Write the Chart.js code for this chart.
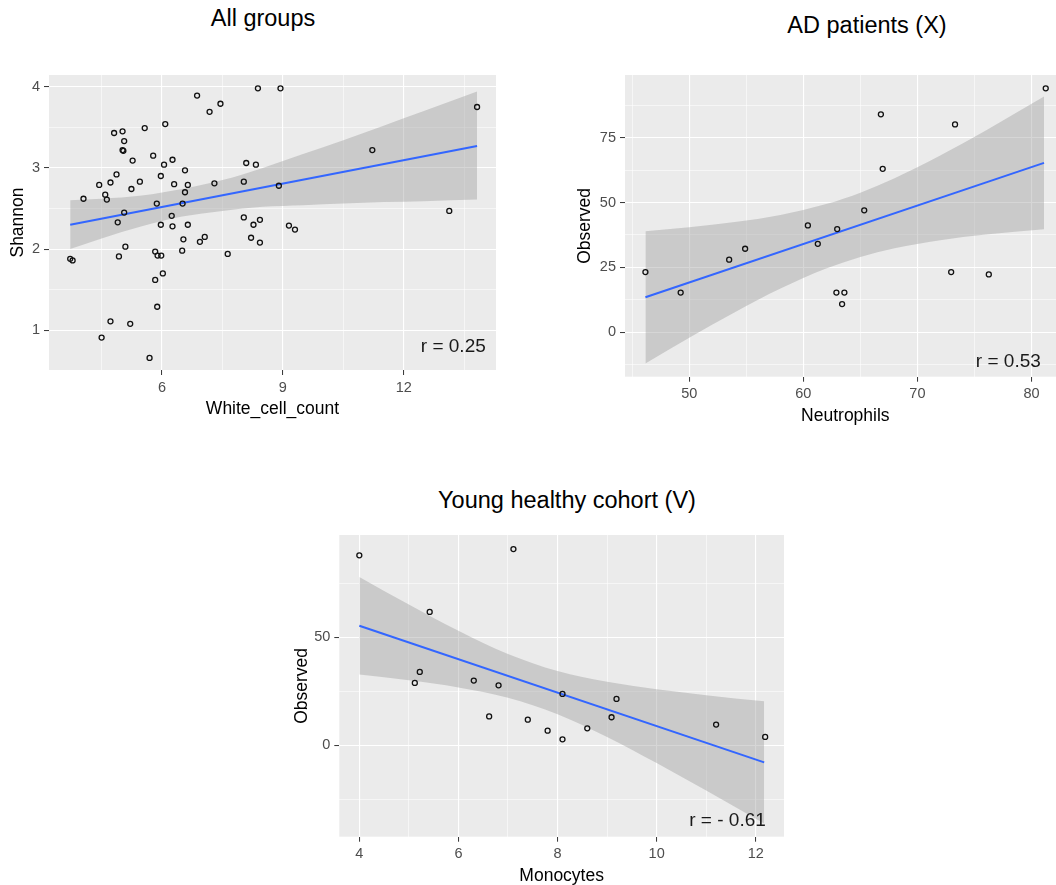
<!DOCTYPE html>
<html lang="en">
<head>
  <meta charset="UTF-8" />
  <title>Correlations</title>
  <script src="https://cdn.jsdelivr.net/npm/chart.js"></script>
  <style>
    html, body {
      margin: 0;
      padding: 0;
      background: #fff;
      overflow: hidden;
      width: 1056px;
      height: 885px;
    }
    body { position: relative; }
    canvas { position: absolute; }
    .plot-title {
      position: absolute;
      width: 400px;
      text-align: center;
      font-family: "Liberation Sans", Arial, sans-serif;
      font-size: 23.5px;
      line-height: 1;
      color: #000;
      white-space: nowrap;
    }
  </style>
</head>
<body>
  <div class="plot-title" style="left:63px; top:7px;">All groups</div>
  <div class="plot-title" style="left:667px; top:14px;">AD patients (X)</div>
  <div class="plot-title" style="left:367px; top:489px;">Young healthy cohort (V)</div>

  <canvas id="allChart" width="510" height="370" style="left:0px; top:60px;"></canvas>
  <canvas id="adChart" width="511" height="377" style="left:560px; top:60px;"></canvas>
  <canvas id="yhChart" width="520" height="377" style="left:277px; top:520px;"></canvas>

  <script>
    // --- All groups: White_cell_count vs Shannon
    const allWcc = [3.72, 3.78, 4.05, 4.44, 4.50, 4.59, 4.63, 4.72, 4.72, 4.81, 4.87, 4.90, 4.93, 5.02, 5.06, 5.02, 5.04, 5.06,
      5.09, 5.21, 5.24, 5.27, 5.45, 5.57, 5.69, 5.78, 5.83, 5.83, 5.87, 5.88, 5.89, 5.97, 5.97, 5.98, 6.02, 6.05, 6.08,
      6.24, 6.26, 6.26, 6.30, 6.51, 6.53, 6.50, 6.57, 6.57, 6.64, 6.64, 6.87, 6.94, 7.06, 7.18, 7.30, 7.45, 7.63, 8.03,
      8.03, 8.09, 8.21, 8.27, 8.33, 8.38, 8.43, 8.43, 8.90, 8.94, 9.15, 9.30, 11.22, 13.13, 13.82];
    const allShannon = [1.88, 1.86, 2.62, 2.79, 0.91, 2.67, 2.61, 2.82, 1.11, 3.43, 2.92, 2.33, 1.91, 3.45, 3.33, 3.22, 3.21, 2.45,
      2.03, 1.08, 2.74, 3.09, 2.83, 3.49, 0.66, 3.15, 1.97, 1.62, 2.56, 1.29, 1.92, 2.90, 2.30, 1.92, 1.70, 3.04, 3.54,
      2.41, 3.10, 2.28, 2.80, 2.56, 2.12, 1.98, 2.97, 2.70, 2.79, 2.30, 3.89, 2.09, 2.15, 3.69, 2.81, 3.79, 1.94, 2.83,
      2.39, 3.06, 2.14, 2.30, 3.04, 3.98, 2.36, 2.08, 2.78, 3.98, 2.29, 2.24, 3.22, 2.47, 3.75];
    const allFitX = [3.72, 13.82];
    const allFitY = [2.30, 3.27];
    const allBandX = [3.72, 4.5, 5.5, 6.5, 7.5, 8.5, 9.5, 10.5, 11.5, 12.5, 13.82];
    const allBandUpper = [2.60, 2.62, 2.66, 2.74, 2.85, 3.00, 3.17, 3.34, 3.52, 3.70, 3.94];
    const allBandLower = [2.00, 2.13, 2.28, 2.40, 2.47, 2.52, 2.54, 2.56, 2.58, 2.59, 2.61];
    const allXMajor = [6, 9, 12], allXMinor = [4.5, 7.5, 10.5, 13.5];
    const allYMajor = [1, 2, 3, 4], allYMinor = [1.5, 2.5, 3.5];

    // --- AD patients (X): Neutrophils vs Observed
    const adNeutrophils = [46.16, 49.25, 53.5, 54.9, 60.4, 61.27, 62.97, 62.9, 63.6, 63.4, 65.34, 66.8, 66.96, 72.96, 73.3, 76.26, 81.25];
    const adObserved = [23.2, 15.3, 28.0, 32.2, 41.2, 34.1, 39.8, 15.3, 15.3, 10.9, 47.0, 84.0, 63.0, 23.2, 80.1, 22.3, 94.0];
    const adFitX = [46.16, 81.1];
    const adFitY = [13.5, 65.3];
    const adBandX = [46.16, 50, 54, 58, 62, 65, 68, 72, 76, 81.1];
    const adBandUpper = [38.97, 40.48, 42.47, 45.24, 49.40, 53.81, 59.36, 68.11, 77.78, 90.84];
    const adBandLower = [-11.97, -2.10, 7.77, 16.86, 24.56, 29.05, 32.40, 35.51, 37.68, 39.76];
    const adXMajor = [50, 60, 70, 80], adXMinor = [45, 55, 65, 75];
    const adYMajor = [0, 25, 50, 75], adYMinor = [-12.5, 12.5, 37.5, 62.5, 87.5];

    // --- Young healthy cohort (V): Monocytes vs Observed
    const yhMonocytes = [4.0, 7.11, 5.42, 5.12, 5.22, 6.31, 6.81, 6.62, 7.40, 7.80, 8.10, 8.10, 8.60, 9.09, 9.19, 11.2, 12.19];
    const yhObserved = [88.0, 90.9, 61.8, 28.9, 34.0, 30.0, 27.8, 13.4, 11.9, 6.8, 23.8, 2.8, 7.9, 13.0, 21.5, 9.6, 3.9];
    const yhFitX = [4.0, 12.17];
    const yhFitY = [55.4, -7.9];
    const yhBandX = [4.0, 5, 6, 7, 8, 9, 10, 11, 12.17];
    const yhBandUpper = [78.00, 65.21, 53.04, 42.29, 34.38, 29.40, 26.00, 23.25, 20.40];
    const yhBandLower = [32.80, 30.09, 26.78, 22.03, 14.44, 3.92, -8.16, -20.91, -36.20];
    const yhXMajor = [4, 6, 8, 10, 12], yhXMinor = [5, 7, 9, 11];
    const yhYMajor = [0, 50], yhYMinor = [-25, 25, 75];

    const FONT = '"Liberation Sans", Arial, sans-serif';
    const zip = (xs, ys) => xs.map((x, i) => ({ x, y: ys[i] }));

    // fondo gris del panel (theme_gray)
    const panelBg = {
      id: 'panelBg',
      beforeDraw(chart) {
        const { ctx, chartArea: a } = chart;
        ctx.save();
        ctx.fillStyle = '#EBEBEB';
        ctx.fillRect(a.left, a.top, a.right - a.left, a.bottom - a.top);
        ctx.restore();
      }
    };

    // texto "r = ..." en coordenadas de datos
    const corrLabel = {
      id: 'corrLabel',
      afterDatasetsDraw(chart, args, opts) {
        const { ctx, scales } = chart;
        ctx.save();
        ctx.font = '19px ' + FONT;
        ctx.fillStyle = '#1a1a1a';
        ctx.textAlign = 'center';
        ctx.textBaseline = 'alphabetic';
        ctx.fillText(opts.text, scales.x.getPixelForValue(opts.x), scales.y.getPixelForValue(opts.y));
        ctx.restore();
      }
    };

    function axis(major, minor, min, max, size, title, titlePad, isX) {
      const isMajor = v => major.includes(v);
      return {
        type: 'linear',
        position: isX ? 'bottom' : 'left',
        min, max,
        afterBuildTicks: s => {
          s.ticks = [...major, ...minor].sort((a, b) => a - b).map(v => ({ value: v }));
        },
        afterFit: s => {
          if (isX) s.height = size; else s.width = size;
        },
        border: { display: false },
        grid: {
          color: '#FFFFFF',
          lineWidth: c => (c.tick && isMajor(c.tick.value)) ? 1.1 : 0.55,
          tickColor: c => (c.tick && isMajor(c.tick.value)) ? '#333333' : 'rgba(0,0,0,0)',
          tickWidth: 1,
          tickLength: 5,
          drawTicks: true
        },
        ticks: {
          autoSkip: false,
          maxRotation: 0,
          padding: 4,
          color: '#4D4D4D',
          font: { family: FONT, size: 14.5 },
          callback: v => isMajor(v) ? String(v) : ''
        },
        title: {
          display: true,
          text: title,
          color: '#000',
          font: { family: FONT, size: 17.5 },
          padding: isX ? { top: 0, bottom: titlePad } : { top: titlePad, bottom: 0 }
        }
      };
    }

    function makeChart(id, p) {
      return new Chart(document.getElementById(id), {
        type: 'scatter',
        data: {
          datasets: [
            {
              data: zip(p.xs, p.ys),
              pointRadius: 2.5,
              pointBorderWidth: 1.3,
              pointBorderColor: '#111',
              pointBackgroundColor: 'rgba(0,0,0,0)',
              showLine: false
            },
            {
              data: zip(p.fitX, p.fitY),
              showLine: true,
              borderColor: '#3366FF',
              borderWidth: 2,
              pointRadius: 0,
              fill: false
            },
            {
              data: zip(p.bandX, p.bandUp),
              showLine: true,
              cubicInterpolationMode: 'monotone',
              borderWidth: 0,
              borderColor: 'rgba(0,0,0,0)',
              pointRadius: 0,
              backgroundColor: 'rgba(153,153,153,0.4)',
              fill: '+1'
            },
            {
              data: zip(p.bandX, p.bandLo),
              showLine: true,
              cubicInterpolationMode: 'monotone',
              borderWidth: 0,
              borderColor: 'rgba(0,0,0,0)',
              pointRadius: 0,
              fill: false
            }
          ]
        },
        options: {
          responsive: false,
          animation: false,
          events: [],
          layout: { padding: { top: 15, right: p.padRight, left: 0, bottom: 0 } },
          plugins: {
            legend: { display: false },
            tooltip: { enabled: false },
            corrLabel: p.label
          },
          scales: {
            x: axis(p.xMajor, p.xMinor, p.xMin, p.xMax, p.xSize, p.xTitle, 10, true),
            y: axis(p.yMajor, p.yMinor, p.yMin, p.yMax, p.ySize, p.yTitle, p.yTitlePad, false)
          }
        },
        plugins: [panelBg, corrLabel]
      });
    }

    makeChart('allChart', {
      xs: allWcc, ys: allShannon,
      fitX: allFitX, fitY: allFitY,
      bandX: allBandX, bandUp: allBandUpper, bandLo: allBandLower,
      xMajor: allXMajor, xMinor: allXMinor, yMajor: allYMajor, yMinor: allYMinor,
      xMin: 3.194, xMax: 14.29, yMin: 0.511, yMax: 4.144,
      xSize: 60, ySize: 49, padRight: 14,
      xTitle: 'White_cell_count', yTitle: 'Shannon', yTitlePad: 7.5,
      label: { text: 'r = 0.25', x: 13.23, y: 0.73 }
    });

    makeChart('adChart', {
      xs: adNeutrophils, ys: adObserved,
      fitX: adFitX, fitY: adFitY,
      bandX: adBandX, bandUp: adBandUpper, bandLo: adBandLower,
      xMajor: adXMajor, xMinor: adXMinor, yMajor: adYMajor, yMinor: adYMinor,
      xMin: 44.37, xMax: 83.0, yMin: -17.1, yMax: 99.15,
      xSize: 60.3, ySize: 65, padRight: 0,
      xTitle: 'Neutrophils', yTitle: 'Observed', yTitlePad: 14.5,
      label: { text: 'r = 0.53', x: 77.97, y: -13.25 }
    });

    makeChart('yhChart', {
      xs: yhMonocytes, ys: yhObserved,
      fitX: yhFitX, fitY: yhFitY,
      bandX: yhBandX, bandUp: yhBandUpper, bandLo: yhBandLower,
      xMajor: yhXMajor, xMinor: yhXMinor, yMajor: yhYMajor, yMinor: yhYMinor,
      xMin: 3.596, xMax: 12.57, yMin: -42.3, yMax: 97.4,
      xSize: 60.3, ySize: 62.3, padRight: 13,
      xTitle: 'Monocytes', yTitle: 'Observed', yTitlePad: 14.2,
      label: { text: 'r = - 0.61', x: 11.43, y: -37.2 }
    });
  </script>
</body>
</html>
